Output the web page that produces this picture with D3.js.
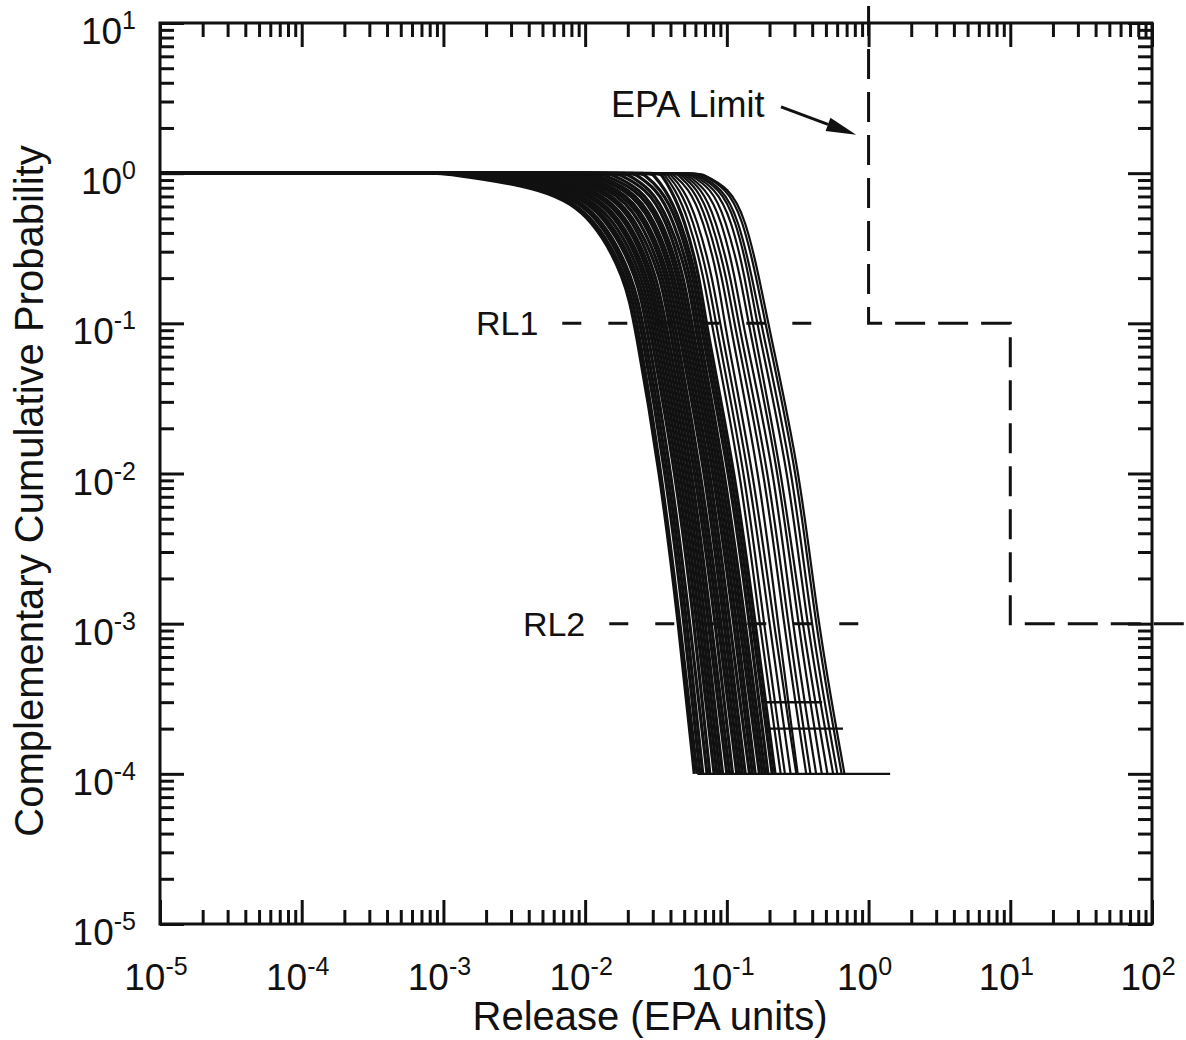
<!DOCTYPE html>
<html>
<head>
<meta charset="utf-8">
<script src="https://cdn.jsdelivr.net/npm/d3@7"></script>
<style>
  body { margin: 0; background: #fff; }
  svg { display: block; font-family: "Liberation Sans", Arial, sans-serif; }
</style>
</head>
<body>
<svg id="chart" width="1186" height="1040"></svg>
<script>
const probLevels = [1, 0.8, 0.5, 0.2, 0.1, 0.01, 0.001, 0.0001];

// log10(release) of each curve at the levels above
// (first entry = where the curve leaves 1.0)
// the tightly packed, nearly solid part of the bundle
const denseLogRelease = [
    [-3.02, -2.26, -1.94, -1.72, -1.65, -1.47, -1.34, -1.23],
    [-2.96, -2.23, -1.92, -1.70, -1.63, -1.46, -1.33, -1.21],
    [-2.90, -2.19, -1.89, -1.68, -1.61, -1.43, -1.30, -1.19],
    [-2.84, -2.16, -1.87, -1.66, -1.59, -1.41, -1.28, -1.17],
    [-2.78, -2.12, -1.84, -1.63, -1.57, -1.39, -1.26, -1.14],
    [-2.71, -2.09, -1.82, -1.61, -1.55, -1.36, -1.23, -1.12],
    [-2.65, -2.06, -1.79, -1.59, -1.53, -1.34, -1.21, -1.09],
    [-2.59, -2.02, -1.76, -1.57, -1.51, -1.32, -1.19, -1.07],
    [-2.53, -1.99, -1.74, -1.55, -1.49, -1.30, -1.17, -1.05],
    [-2.47, -1.95, -1.71, -1.53, -1.47, -1.28, -1.15, -1.03],
    [-2.40, -1.92, -1.69, -1.51, -1.45, -1.26, -1.13, -1.00],
    [-2.34, -1.88, -1.66, -1.49, -1.43, -1.24, -1.11, -0.98],
    [-2.28, -1.85, -1.64, -1.46, -1.41, -1.22, -1.08, -0.96],
    [-2.22, -1.81, -1.61, -1.44, -1.39, -1.20, -1.06, -0.93],
    [-2.15, -1.78, -1.58, -1.42, -1.37, -1.18, -1.04, -0.91],
    [-2.09, -1.75, -1.56, -1.40, -1.35, -1.15, -1.02, -0.89],
    [-2.03, -1.71, -1.53, -1.38, -1.33, -1.13, -1.00, -0.87],
    [-1.97, -1.68, -1.51, -1.36, -1.31, -1.11, -0.98, -0.84],
    [-1.91, -1.64, -1.48, -1.34, -1.29, -1.09, -0.95, -0.82],
    [-1.84, -1.61, -1.46, -1.32, -1.27, -1.07, -0.93, -0.80],
    [-1.78, -1.57, -1.43, -1.30, -1.25, -1.05, -0.91, -0.77],
    [-1.72, -1.54, -1.41, -1.27, -1.23, -1.03, -0.89, -0.75],
    [-1.66, -1.50, -1.38, -1.25, -1.21, -1.01, -0.87, -0.73],
    [-1.60, -1.47, -1.35, -1.23, -1.19, -0.98, -0.84, -0.71],
    [-1.53, -1.44, -1.33, -1.21, -1.17, -0.96, -0.82, -0.68],
    [-1.47, -1.40, -1.30, -1.19, -1.15, -0.94, -0.80, -0.66]
];

// the looser fan of separate curves on the right
const fanLogRelease = [
    [-1.45, -1.37, -1.27, -1.16, -1.11, -0.90, -0.77, -0.62],
    [-1.43, -1.34, -1.24, -1.13, -1.08, -0.87, -0.74, -0.59],
    [-1.41, -1.31, -1.21, -1.10, -1.05, -0.84, -0.70, -0.55],
    [-1.39, -1.27, -1.17, -1.06, -1.02, -0.81, -0.67, -0.51],
    [-1.36, -1.24, -1.14, -1.03, -0.98, -0.77, -0.64, -0.50],
    [-1.34, -1.21, -1.11, -1.00, -0.95, -0.73, -0.60, -0.44],
    [-1.32, -1.18, -1.08, -0.97, -0.92, -0.70, -0.57, -0.41],
    [-1.30, -1.15, -1.04, -0.94, -0.89, -0.66, -0.54, -0.37],
    [-1.28, -1.11, -1.01, -0.90, -0.85, -0.63, -0.50, -0.33],
    [-1.26, -1.08, -0.97, -0.87, -0.82, -0.61, -0.47, -0.29],
    [-1.24, -1.05, -0.94, -0.84, -0.79, -0.56, -0.44, -0.25],
    [-1.22, -1.03, -0.92, -0.82, -0.76, -0.53, -0.41, -0.22],
    [-1.20, -1.00, -0.89, -0.79, -0.73, -0.50, -0.38, -0.19],
    [-1.19, -0.98, -0.87, -0.77, -0.71, -0.48, -0.36, -0.17]
];

// flat steps at the bottom of the curves (last samples)
const tailProb = [3e-4, 2e-4, 1e-4];
const tailFrom = [0.186, 0.192, 0.062];
const tailTo = [0.47, 0.66, 1.42];

// EPA limit step line (release, probability)
const epaLimit = [[1, 13], [1, 0.1], [10, 0.1], [10, 0.001], [300, 0.001]];

// reference levels RL1 / RL2
const refNames = ["RL1", "RL2"];
const refProb = [0.1, 0.001];
const refFrom = [0.0069, 0.0148];
const refTo = [0.434, 0.944];

const xTickExp = [-5, -4, -3, -2, -1, 0, 1, 2];
const yTickExp = [-5, -4, -3, -2, -1, 0, 1];

const svg = d3.select("#chart");
const ink = "#111";

const x = d3.scaleLog().domain([1e-5, 1e2]).range([160, 1152]);
const y = d3.scaleLog().domain([1e-5, 1e1]).range([924, 23]);

// minor ticks 2..9 inside each decade
const minorOf = exps => exps.slice(0, -1).flatMap(e => d3.range(2, 10).map(m => m * Math.pow(10, e)));
const xMajor = xTickExp.map(e => Math.pow(10, e));
const yMajor = yTickExp.map(e => Math.pow(10, e));

function addAxis(gen, transform, values, size) {
    svg.append("g")
        .attr("transform", transform)
        .call(gen.tickValues(values).tickSize(size).tickFormat(""))
        .call(g => g.select(".domain").remove())
        .selectAll("line")
        .attr("stroke", ink)
        .attr("stroke-width", 3);
}

// ticks point inward on all four sides
addAxis(d3.axisBottom(x), "translate(0,924)", xMajor, -24);
addAxis(d3.axisBottom(x), "translate(0,924)", minorOf(xTickExp), -14);
addAxis(d3.axisTop(x), "translate(0,23)", xMajor, -24);
addAxis(d3.axisTop(x), "translate(0,23)", minorOf(xTickExp), -14);
addAxis(d3.axisLeft(y), "translate(160,0)", yMajor, -24);
addAxis(d3.axisLeft(y), "translate(160,0)", minorOf(yTickExp), -14);
addAxis(d3.axisRight(y), "translate(1152,0)", yMajor, -24);
addAxis(d3.axisRight(y), "translate(1152,0)", minorOf(yTickExp), -14);

// reference level dashes
refNames.forEach((name, i) => {
    svg.append("line")
        .attr("x1", x(refFrom[i])).attr("x2", x(refTo[i]))
        .attr("y1", y(refProb[i])).attr("y2", y(refProb[i]))
        .attr("stroke", ink)
        .attr("stroke-width", 3)
        .attr("stroke-dasharray", "19,27");
    svg.append("text")
        .attr("x", x(refFrom[i]) - 24)
        .attr("y", y(refProb[i]) + 12)
        .attr("text-anchor", "end")
        .attr("font-size", 34)
        .attr("fill", ink)
        .text(name);
});

// CCDF curves: flat at 1.0 from the left edge, then down through the read levels
const curveLine = d3.line()
    .x(d => x(d[0]))
    .y(d => y(d[1]))
    .curve(d3.curveBasis);

// the departure point is given twice so the spline keeps the shoulder flat
function toPoints(row) {
    const pts = row.map((v, j) => [Math.pow(10, v), probLevels[j]]);
    return [[1e-5, 1], pts[0]].concat(pts);
}

function drawCurves(rows, width) {
    svg.append("g")
        .selectAll("path")
        .data(rows.map(toPoints))
        .join("path")
        .attr("d", curveLine)
        .attr("fill", "none")
        .attr("stroke", ink)
        .attr("stroke-width", width);
}

drawCurves(denseLogRelease, 3.2);
drawCurves(fanLogRelease, 2.2);

svg.append("g")
    .selectAll("line")
    .data(tailProb)
    .join("line")
    .attr("x1", (d, i) => x(tailFrom[i]))
    .attr("x2", (d, i) => x(tailTo[i]))
    .attr("y1", d => y(d))
    .attr("y2", d => y(d))
    .attr("stroke", ink)
    .attr("stroke-width", 2.4);

// EPA limit
svg.append("path")
    .datum(epaLimit)
    .attr("d", d3.line().x(d => x(d[0])).y(d => y(d[1])))
    .attr("fill", "none")
    .attr("stroke", ink)
    .attr("stroke-width", 3)
    .attr("stroke-dasharray", "30,13");

svg.append("text")
    .attr("x", 611)
    .attr("y", 117)
    .attr("font-size", 36)
    .attr("fill", ink)
    .text("EPA Limit");

// arrow toward the limit line
const tail = [x(0.241), y(2.76)];
const tip = [x(0.817), y(1.8)];
const ang = Math.atan2(tip[1] - tail[1], tip[0] - tail[0]);
const headLen = 30, headW = 7;
const base = [tip[0] - headLen * Math.cos(ang), tip[1] - headLen * Math.sin(ang)];
svg.append("line")
    .attr("x1", tail[0]).attr("y1", tail[1])
    .attr("x2", base[0]).attr("y2", base[1])
    .attr("stroke", ink)
    .attr("stroke-width", 3);
svg.append("path")
    .attr("d", d3.line()([
        tip,
        [base[0] + headW * Math.sin(ang), base[1] - headW * Math.cos(ang)],
        [base[0] - headW * Math.sin(ang), base[1] + headW * Math.cos(ang)]
    ]) + "Z")
    .attr("fill", ink);

// frame
svg.append("rect")
    .attr("x", 160).attr("y", 23)
    .attr("width", 992).attr("height", 901)
    .attr("fill", "none")
    .attr("stroke", ink)
    .attr("stroke-width", 3);

// tick labels with superscript exponents
xTickExp.forEach(e => {
    const t = svg.append("text")
        .attr("x", x(Math.pow(10, e)) - 4)
        .attr("y", 990)
        .attr("text-anchor", "middle")
        .attr("font-size", 37)
        .attr("fill", ink);
    t.append("tspan").text("10");
    t.append("tspan").attr("dy", -15).attr("font-size", 25).text(e);
});

yTickExp.forEach(e => {
    const t = svg.append("text")
        .attr("x", 136)
        .attr("y", y(Math.pow(10, e)) + 21)
        .attr("text-anchor", "end")
        .attr("font-size", 37)
        .attr("fill", ink);
    t.append("tspan").text("10");
    t.append("tspan").attr("dy", -15).attr("font-size", 25).text(e);
});

// axis titles
svg.append("text")
    .attr("x", 650)
    .attr("y", 1030)
    .attr("text-anchor", "middle")
    .attr("font-size", 40)
    .attr("fill", ink)
    .text("Release (EPA units)");

svg.append("text")
    .attr("transform", "translate(43,491) rotate(-90)")
    .attr("text-anchor", "middle")
    .attr("font-size", 40)
    .attr("fill", ink)
    .text("Complementary Cumulative Probability");
</script>
</body>
</html>
